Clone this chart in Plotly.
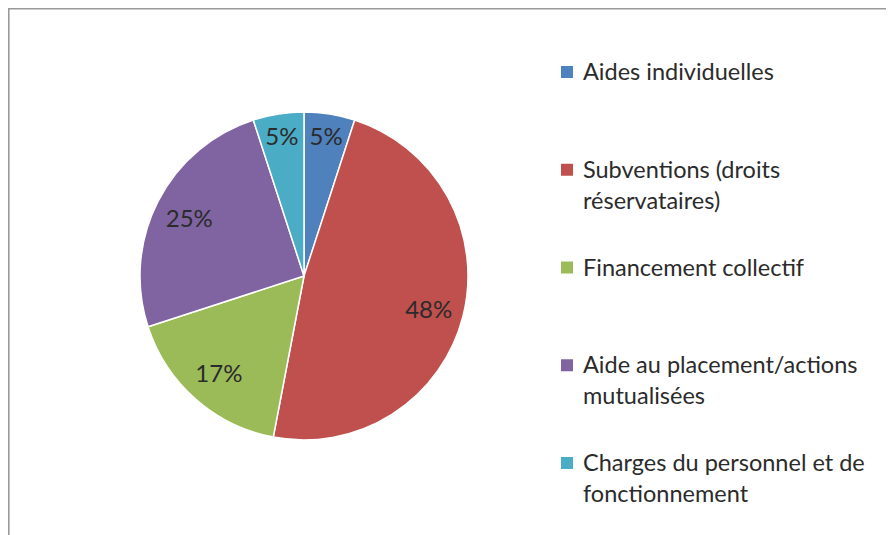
import plotly.graph_objects as go

categories = [
    "Aides individuelles",
    "Subventions (droits réservataires)",
    "Financement collectif",
    "Aide au placement/actions mutualisées",
    "Charges du personnel et de fonctionnement",
]
legend_labels = [
    "Aides individuelles",
    "Subventions (droits<br>réservataires)",
    "Financement collectif",
    "Aide au placement/actions<br>mutualisées",
    "Charges du personnel et de<br>fonctionnement",
]
values = [5, 48, 17, 25, 5]
colors = ["#4F81BD", "#C0504D", "#9BBB59", "#8064A2", "#4BACC6"]

W, H = 894, 535
FONT = "Lato, 'Open Sans', sans-serif"
TXT = "#2b2b2b"

# pie: center (296, 268) in figure px, radius 164
cx, cy, r = 296, 268, 164
dom = dict(x=[(cx - r) / W, (cx + r) / W], y=[(H - cy - r) / H, (H - cy + r) / H])

fig = go.Figure()
fig.add_trace(go.Pie(
    labels=categories,
    values=values,
    sort=False,
    direction="clockwise",
    rotation=0,
    marker=dict(colors=colors, line=dict(color="white", width=1.5)),
    textinfo="none",
    showlegend=False,
    domain=dom,
))
# transparent ring carrying the percentage labels near the outer edge
fig.add_trace(go.Pie(
    labels=categories,
    values=values,
    sort=False,
    direction="clockwise",
    rotation=0,
    hole=0.57,
    marker=dict(colors=["rgba(0,0,0,0)"] * len(values), line=dict(width=0)),
    texttemplate="%{percent:.0%}",
    textposition="inside",
    insidetextorientation="horizontal",
    textfont=dict(family=FONT, size=24, color=TXT),
    hoverinfo="skip",
    showlegend=False,
    domain=dom,
))

# border of the chart area (extends beyond the page on the right and bottom)
fig.add_shape(type="rect", xref="paper", yref="paper",
              x0=0.8 / W, x1=1.2, y0=-0.2, y1=(H - 0.8) / H,
              line=dict(color="#9a9a9a", width=1.6), fillcolor="rgba(0,0,0,0)")

# legend drawn on the right
for i, (lab, col) in enumerate(zip(legend_labels, colors)):
    yc = 64 + 97.75 * i
    fig.add_shape(type="rect", xref="paper", yref="paper",
                  x0=553 / W, x1=565 / W, y0=(H - yc - 6) / H, y1=(H - yc + 6) / H,
                  line=dict(width=0), fillcolor=col)
    fig.add_annotation(xref="paper", yref="paper", x=573 / W, y=(H - yc + 16.8) / H,
                       xanchor="left", yanchor="top", align="left", showarrow=False,
                       text=lab, font=dict(family=FONT, size=23.5, color=TXT))

fig.update_layout(
    width=W, height=H,
    margin=dict(l=0, r=0, t=0, b=0),
    paper_bgcolor="white",
    plot_bgcolor="white",
)

fig.write_html("out.html")
